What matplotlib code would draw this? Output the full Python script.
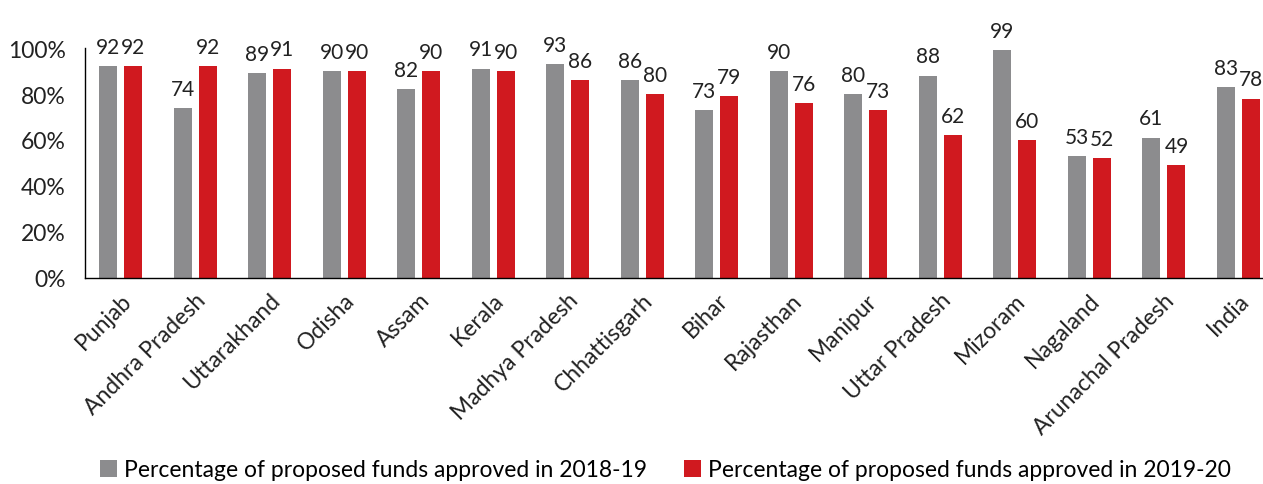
import matplotlib
matplotlib.use("Agg")
import matplotlib.pyplot as plt
import numpy as np

states = ["Punjab", "Andhra Pradesh", "Uttarakhand", "Odisha", "Assam", "Kerala",
          "Madhya Pradesh", "Chhattisgarh", "Bihar", "Rajasthan", "Manipur",
          "Uttar Pradesh", "Mizoram", "Nagaland", "Arunachal Pradesh", "India"]
pct_2018_19 = [92, 74, 89, 90, 82, 91, 93, 86, 73, 90, 80, 88, 99, 53, 61, 83]
pct_2019_20 = [92, 92, 91, 90, 90, 90, 86, 80, 79, 76, 73, 62, 60, 52, 49, 78]
yticks = [0, 20, 40, 60, 80, 100]
ytick_labels = ["0%", "20%", "40%", "60%", "80%", "100%"]
legend_labels = ["Percentage of proposed funds approved in 2018-19",
                 "Percentage of proposed funds approved in 2019-20"]

plt.rcParams['font.family'] = ['Lato', 'DejaVu Sans']

GREY = "#8c8c8e"
RED = "#d0191f"

fig = plt.figure(figsize=(12.63, 4.85), dpi=100)
ax = fig.add_axes([85/1263, 1 - 279/485, (1263-85)/1263, (279-49)/485])

x = np.arange(len(states))
w = 0.24
off = 0.168
b1 = ax.bar(x - off, pct_2018_19, w, color=GREY, label=legend_labels[0])
b2 = ax.bar(x + off, pct_2019_20, w, color=RED, label=legend_labels[1])

for xi, v in zip(x, pct_2018_19):
    ax.text(xi - off, v + 4, f"{v}", ha="center", va="bottom", fontsize=15, color="#222222")
for xi, v in zip(x, pct_2019_20):
    ax.text(xi + off, v + 4, f"{v}", ha="center", va="bottom", fontsize=15, color="#222222")

ax.set_ylim(0, 100)
ax.set_xlim(-0.48, 15.33)
ax.set_yticks(yticks)
ax.set_yticklabels(ytick_labels, fontsize=16.5, color="#222222")
ax.set_xticks(x)
ax.set_xticklabels(states, rotation=45, ha="right", rotation_mode="anchor", fontsize=16.5,
                   color="#222222")
ax.tick_params(axis="y", length=0, pad=14)
ax.tick_params(axis="x", length=0, pad=8)
for s in ["top", "right"]:
    ax.spines[s].set_visible(False)
ax.spines["left"].set_linewidth(1)
ax.spines["bottom"].set_linewidth(1)

fig.legend(handles=[b1, b2], labels=legend_labels, loc="lower center",
           bbox_to_anchor=(0.527, -0.035), ncol=2, frameon=False, fontsize=16.5,
           handlelength=0.75, handleheight=0.75, handletextpad=0.3, columnspacing=1.6)

fig.savefig("out.png", dpi=100)
